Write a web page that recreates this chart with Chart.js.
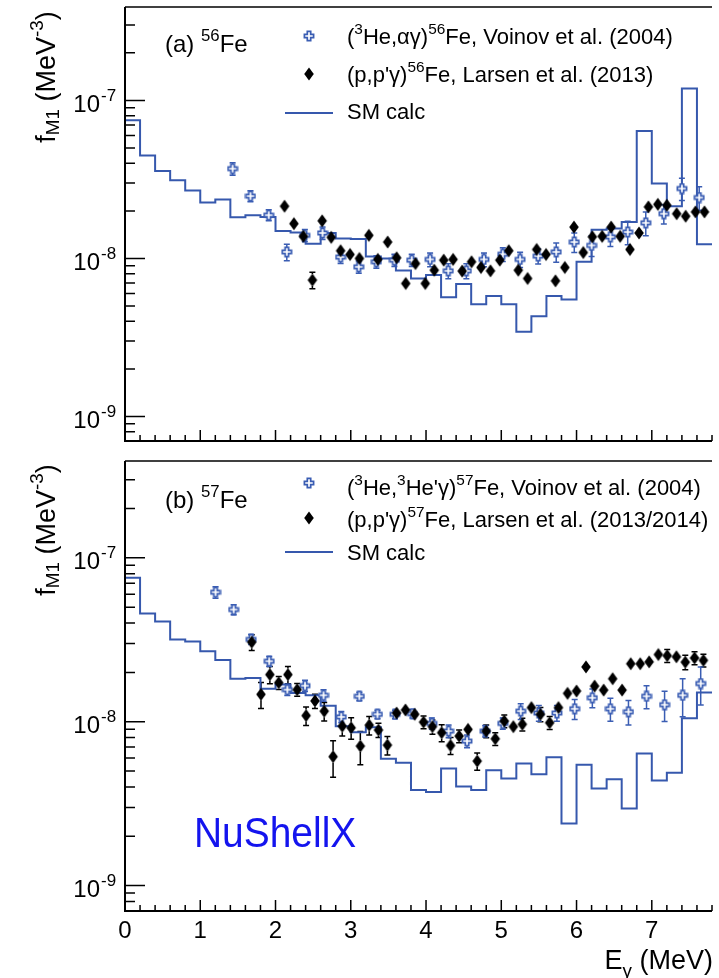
<!DOCTYPE html>
<html>
<head>
<meta charset="utf-8">
<script src="https://cdn.jsdelivr.net/npm/chart.js@4.4.1/dist/chart.umd.min.js"></script>
<style>
  html, body { margin: 0; padding: 0; background: #fff; }
  #wrap { position: relative; width: 719px; height: 978px; overflow: hidden; }
  canvas { position: absolute; left: 0; }
  #fe56 { top: 0; }
  #fe57 { top: 450px; }
</style>
</head>
<body>
<div id="wrap">
  <canvas id="fe56" width="719" height="450"></canvas>
  <canvas id="fe57" width="719" height="528"></canvas>
</div>
<script>
// shell-model histogram: bin edges in MeV (last entry closes the final bin)
const smBinEdges = [0, 0.2, 0.4, 0.6, 0.8, 1.0, 1.2, 1.4, 1.6, 1.8, 2.0, 2.2, 2.4, 2.6, 2.8, 3.0, 3.2, 3.4, 3.6, 3.8,
  4.0, 4.2, 4.4, 4.6, 4.8, 5.0, 5.2, 5.4, 5.6, 5.8, 6.0, 6.2, 6.4, 6.6, 6.8, 7.0, 7.2, 7.4, 7.6, 7.8];

const smFe56 = [7.48e-8, 4.48e-8, 3.57e-8, 3.13e-8, 2.69e-8, 2.26e-8, 2.36e-8, 1.82e-8, 1.88e-8, 1.83e-8,
  1.49e-8, 1.46e-8, 1.24e-8, 1.45e-8, 1.34e-8, 1.33e-8, 1.03e-8, 1.00e-8, 8.4e-9, 7.47e-9,
  7.85e-9, 5.68e-9, 6.89e-9, 5.14e-9, 5.78e-9, 5.14e-9, 3.44e-9, 4.31e-9, 5.78e-9, 5.51e-9,
  9.53e-9, 1.52e-8, 1.55e-8, 1.70e-8, 6.4e-8, 2.98e-8, 2.14e-8, 1.19e-7, 1.23e-8];

const smFe57 = [7.55e-8, 4.57e-8, 4.09e-8, 3.18e-8, 3.09e-8, 2.69e-8, 2.38e-8, 1.83e-8, 1.85e-8, 1.59e-8,
  1.69e-8, 1.50e-8, 1.45e-8, 1.25e-8, 9.4e-9, 8.64e-9, 9.27e-9, 5.94e-9, 5.62e-9, 3.83e-9,
  3.72e-9, 5.19e-9, 4.02e-9, 3.83e-9, 5.05e-9, 4.51e-9, 5.57e-9, 4.78e-9, 6.08e-9, 2.39e-9,
  5.47e-9, 3.92e-9, 4.45e-9, 2.96e-9, 6.41e-9, 4.38e-9, 4.89e-9, 1.05e-8, 1.51e-8];

// (3He,alpha gamma) 56Fe, Voinov et al.
const voinovFe56E = [1.43, 1.667, 1.91, 2.15, 2.39, 2.625, 2.865, 3.106, 3.34, 3.58, 3.81, 4.054, 4.296, 4.536,
  4.77, 5.02, 5.25, 5.49, 5.73, 5.97, 6.20, 6.45, 6.68, 6.92, 7.16, 7.40, 7.63];
const voinovFe56F = [3.70e-8, 2.48e-8, 1.88e-8, 1.10e-8, 1.40e-8, 1.45e-8, 1.02e-8, 8.85e-9, 9.53e-9, 9.76e-9,
  9.76e-9, 9.86e-9, 8.35e-9, 8.35e-9, 9.86e-9, 1.064e-8, 9.86e-9, 1.035e-8, 1.10e-8, 1.27e-8,
  1.21e-8, 1.37e-8, 1.47e-8, 1.68e-8, 1.92e-8, 2.77e-8, 2.43e-8];
const voinovFe56Err = [0.09, 0.08, 0.08, 0.12, 0.09, 0.09, 0.09, 0.09, 0.09, 0.09, 0.09, 0.10, 0.11, 0.11,
  0.10, 0.10, 0.11, 0.11, 0.14, 0.14, 0.15, 0.13, 0.17, 0.17, 0.14, 0.16, 0.17];

// (p,p'gamma) 56Fe, Larsen et al.
const larsenFe56E = [2.12, 2.244, 2.37, 2.49, 2.62, 2.74, 2.865, 2.99, 3.115, 3.24, 3.36, 3.49, 3.61, 3.73, 3.86,
  3.99, 4.11, 4.235, 4.36, 4.48, 4.605, 4.73, 4.856, 4.98, 5.10, 5.226, 5.35, 5.47, 5.595, 5.72,
  5.845, 5.966, 6.09, 6.21, 6.34, 6.46, 6.58, 6.71, 6.83, 6.955, 7.08, 7.20, 7.33, 7.45, 7.58, 7.70];
const larsenFe56F = [2.14e-8, 1.66e-8, 1.38e-8, 7.3e-9, 1.73e-8, 1.36e-8, 1.12e-8, 1.06e-8, 1.0e-8, 1.40e-8,
  9.86e-9, 1.27e-8, 1.01e-8, 6.95e-9, 9.29e-9, 6.95e-9, 8.43e-9, 9.76e-9, 9.86e-9, 8.32e-9,
  9.53e-9, 8.77e-9, 8.35e-9, 9.76e-9, 1.12e-8, 8.43e-9, 7.47e-9, 1.14e-8, 1.06e-8, 7.22e-9,
  8.77e-9, 1.58e-8, 1.09e-8, 1.37e-8, 1.38e-8, 1.58e-8, 1.38e-8, 1.14e-8, 1.45e-8, 2.12e-8,
  2.20e-8, 2.17e-8, 1.92e-8, 1.85e-8, 1.97e-8, 1.97e-8];
const larsenFe56Err = [0.05, 0.05, 0.05, 0.12, 0.05, 0.05, 0.05, 0.05, 0.05, 0.05, 0.05, 0.05, 0.05, 0.05, 0.05,
  0.05, 0.05, 0.05, 0.05, 0.05, 0.05, 0.05, 0.05, 0.05, 0.05, 0.05, 0.05, 0.05, 0.05, 0.05,
  0.05, 0.05, 0.05, 0.05, 0.05, 0.05, 0.05, 0.05, 0.05, 0.05, 0.05, 0.05, 0.05, 0.05, 0.05, 0.05];

// (3He,3He'gamma) 57Fe, Voinov et al.
const voinovFe57E = [1.203, 1.444, 1.676, 1.916, 2.157, 2.392, 2.638, 2.874, 3.114, 3.355, 3.587, 3.82, 4.077,
  4.30, 4.545, 4.786, 5.02, 5.258, 5.499, 5.739, 5.975, 6.21, 6.45, 6.69, 6.93, 7.17, 7.41, 7.65];
const voinovFe57F = [6.17e-8, 4.84e-8, 3.18e-8, 2.34e-8, 1.57e-8, 1.66e-8, 1.45e-8, 1.07e-8, 1.43e-8, 1.11e-8,
  1.11e-8, 1.12e-8, 9.77e-9, 8.77e-9, 7.62e-9, 8.77e-9, 9.77e-9, 1.16e-8, 1.13e-8, 1.13e-8,
  1.20e-8, 1.40e-8, 1.20e-8, 1.15e-8, 1.43e-8, 1.27e-8, 1.45e-8, 1.71e-8];
const voinovFe57Err = [0.08, 0.07, 0.07, 0.07, 0.08, 0.08, 0.08, 0.08, 0.06, 0.06, 0.06, 0.06, 0.08, 0.09,
  0.09, 0.08, 0.08, 0.11, 0.11, 0.11, 0.14, 0.13, 0.16, 0.17, 0.16, 0.21, 0.26, 0.26];

// (p,p'gamma) 57Fe, Larsen et al.
const larsenFe57E = [1.684, 1.807, 1.925, 2.043, 2.165, 2.288, 2.406, 2.524, 2.647, 2.765, 2.887, 3.005, 3.127,
  3.245, 3.368, 3.487, 3.609, 3.727, 3.85, 3.967, 4.085, 4.208, 4.326, 4.44, 4.558, 4.68, 4.80, 4.92,
  5.04, 5.16, 5.28, 5.40, 5.52, 5.643, 5.76, 5.88, 6.00, 6.125, 6.24, 6.36, 6.48, 6.605, 6.72, 6.846,
  6.965, 7.087, 7.205, 7.327, 7.445, 7.568, 7.686];
const larsenFe57F = [3.06e-8, 1.47e-8, 1.94e-8, 1.73e-8, 1.94e-8, 1.57e-8, 1.09e-8, 1.34e-8, 1.16e-8, 6.12e-9,
  9.4e-9, 9.19e-9, 7.1e-9, 9.53e-9, 8.9e-9, 7.2e-9, 1.13e-8, 1.18e-8, 1.11e-8, 9.95e-9,
  9.33e-9, 8.57e-9, 7.16e-9, 8.17e-9, 8.98e-9, 5.75e-9, 8.77e-9, 7.87e-9, 1.01e-8, 9.33e-9,
  9.65e-9, 1.22e-8, 1.11e-8, 9.86e-9, 1.22e-8, 1.49e-8, 1.54e-8, 2.16e-8, 1.65e-8, 1.56e-8,
  1.83e-8, 1.56e-8, 2.26e-8, 2.26e-8, 2.32e-8, 2.57e-8, 2.53e-8, 2.49e-8, 2.31e-8, 2.45e-8, 2.37e-8];
const larsenFe57Err = [0.11, 0.18, 0.12, 0.09, 0.12, 0.09, 0.13, 0.10, 0.13, 0.25, 0.13, 0.15, 0.23,
  0.13, 0.10, 0.13, 0.07, 0.06, 0.07, 0.09, 0.10, 0.12, 0.12, 0.09, 0.07, 0.12, 0.09, 0.09,
  0.09, 0.07, 0.09, 0.06, 0.10, 0.09, 0.07, 0.06, 0.07, 0.05, 0.07, 0.06, 0.06, 0.07, 0.05, 0.05,
  0.05, 0.06, 0.09, 0.06, 0.10, 0.09, 0.09];

// axis tick labels
const xTickLabels = ['0', '1', '2', '3', '4', '5', '6', '7'];
const yTickExponents = [-9, -8, -7];

const SM_BLUE = '#3658ad';
const DATA_BLUE = '#3a5db3';
const FONT = '"Liberation Sans", Arial, Helvetica, sans-serif';

function toPoints(xs, ys) {
  return xs.map((x, i) => ({ x: x, y: ys[i] }));
}

// histogram points sit on the lower bin edges; the last edge repeats the last content
function histPoints(edges, vals) {
  return edges.map((x, i) => ({ x: x, y: vals[Math.min(i, vals.length - 1)] }));
}

function makeCross() {
  const c = document.createElement('canvas');
  c.width = 12; c.height = 12;
  const g = c.getContext('2d');
  const a = 4.6, b = 1.7;
  g.translate(6, 6);
  g.beginPath();
  [[-b, -a], [b, -a], [b, -b], [a, -b], [a, b], [b, b], [b, a], [-b, a], [-b, b], [-a, b], [-a, -b], [-b, -b]]
    .forEach(([x, y], i) => (i ? g.lineTo(x, y) : g.moveTo(x, y)));
  g.closePath();
  g.fillStyle = '#fff';
  g.fill();
  g.strokeStyle = DATA_BLUE;
  g.lineWidth = 1.7;
  g.stroke();
  return c;
}

function makeDiamond() {
  const c = document.createElement('canvas');
  c.width = 12; c.height = 16;
  const g = c.getContext('2d');
  g.beginPath();
  g.moveTo(6, 1.5); g.lineTo(10.8, 8); g.lineTo(6, 14.5); g.lineTo(1.2, 8);
  g.closePath();
  g.fillStyle = '#000';
  g.fill();
  return c;
}

const crossImg = makeCross();
const diamondImg = makeDiamond();

// text with ROOT-like super/subscripts: parts are [text, kind]
function drawRich(ctx, parts, x, y, size, measureOnly) {
  let cx = x;
  parts.forEach(([txt, kind]) => {
    let fs = size, dy = 0;
    if (kind === 'sup') { fs = size * 0.7; dy = -size * 0.45; }
    if (kind === 'sub') { fs = size * 0.7; dy = size * 0.16; }
    if (kind === 'subg') { fs = size * 0.7; dy = size * 0.3; }
    ctx.font = fs + 'px ' + FONT;
    if (!measureOnly) ctx.fillText(txt, cx, y + dy);
    cx += ctx.measureText(txt).width;
  });
  return cx - x;
}

// vertical error bars; the part hidden by the marker is skipped, as ROOT does
const errorBars = {
  id: 'errorBars',
  beforeDatasetsDraw(chart) {
    const { ctx, chartArea: a, scales: { x, y } } = chart;
    ctx.save();
    ctx.beginPath();
    ctx.rect(a.left, a.top, a.right - a.left, a.bottom - a.top);
    ctx.clip();
    chart.data.datasets.forEach(ds => {
      if (!ds.relErr) return;
      const m = ds.markerHalf;
      ctx.strokeStyle = ds.errColor;
      ctx.lineWidth = 1.5;
      ds.data.forEach((p, i) => {
        const px = x.getPixelForValue(p.x);
        const py = y.getPixelForValue(p.y);
        const lo = y.getPixelForValue(p.y * (1 - ds.relErr[i]));
        const hi = y.getPixelForValue(p.y * (1 + ds.relErr[i]));
        ctx.beginPath();
        if (lo > py + m) {
          ctx.moveTo(px, py + m); ctx.lineTo(px, lo);
          ctx.moveTo(px - 3, lo); ctx.lineTo(px + 3, lo);
        }
        if (hi < py - m) {
          ctx.moveTo(px, py - m); ctx.lineTo(px, hi);
          ctx.moveTo(px - 3, hi); ctx.lineTo(px + 3, hi);
        }
        ctx.stroke();
      });
    });
    ctx.restore();
  }
};

function makeDecor(p) {
  return {
    id: 'decor',
    afterDraw(chart) {
      const { ctx, chartArea: a, scales: { x, y } } = chart;
      ctx.save();
      ctx.strokeStyle = '#000';
      ctx.fillStyle = '#000';
      ctx.textBaseline = 'alphabetic';

      // frame (right side runs off the page)
      ctx.lineWidth = 1.5;
      ctx.beginPath();
      ctx.moveTo(a.left, a.top); ctx.lineTo(a.right, a.top);
      ctx.stroke();
      ctx.lineWidth = 2;
      ctx.beginPath();
      ctx.moveTo(a.left, a.top); ctx.lineTo(a.left, a.bottom);
      ctx.moveTo(a.left - 1, a.bottom); ctx.lineTo(a.right, a.bottom);
      ctx.stroke();

      // inward ticks
      ctx.lineWidth = 1.5;
      ctx.beginPath();
      for (let e = -10; e <= -7; e++) {
        for (let m = 1; m <= 9; m++) {
          const v = m * Math.pow(10, e);
          if (v < y.min || v > y.max) continue;
          const py = y.getPixelForValue(v);
          ctx.moveTo(a.left, py);
          ctx.lineTo(a.left + (m === 1 ? 20 : 10), py);
        }
      }
      for (let i = 1; i * 0.2 <= x.max + 1e-9; i++) {
        const px = x.getPixelForValue(i * 0.2);
        ctx.moveTo(px, a.bottom);
        ctx.lineTo(px, a.bottom - (i % 5 === 0 ? 11 : 6));
      }
      ctx.stroke();

      // y tick labels 10^n
      yTickExponents.forEach(e => {
        const py = y.getPixelForValue(Math.pow(10, e));
        ctx.textAlign = 'right';
        ctx.font = '24px ' + FONT;
        ctx.fillText('10', 100, py + 11.5);
        ctx.textAlign = 'left';
        ctx.font = '17px ' + FONT;
        ctx.fillText(String(e), 101, py + 0.5);
      });
      ctx.textAlign = 'left';

      // y title, rotated
      const yTitle = [['f', 'n'], ['M1', 'sub'], [' (MeV', 'n'], ['-3', 'sup'], [')', 'n']];
      const yw = drawRich(ctx, yTitle, 0, 0, 27, true);
      ctx.save();
      ctx.translate(55, p.yTitleCenter);
      ctx.rotate(-Math.PI / 2);
      drawRich(ctx, yTitle, -yw / 2, 0, 27);
      ctx.restore();

      // x tick labels and title on the lower panel only
      if (p.showXLabels) {
        ctx.textAlign = 'center';
        ctx.font = '24px ' + FONT;
        xTickLabels.forEach(t => {
          ctx.fillText(t, x.getPixelForValue(Number(t)), 488);
        });
        ctx.textAlign = 'left';
        const xTitle = [['E', 'n'], ['\u03b3', 'subg'], [' (MeV)', 'n']];
        const xw = drawRich(ctx, xTitle, 0, 0, 27, true);
        drawRich(ctx, xTitle, 713 - xw, 519, 27);
      }

      // panel label
      drawRich(ctx, p.label, 165, p.labelY, 24);

      // legend
      ctx.drawImage(crossImg, 309 - 6, p.legendY[0] - 6);
      ctx.drawImage(diamondImg, 309 - 6, p.legendY[1] - 8);
      ctx.strokeStyle = SM_BLUE;
      ctx.lineWidth = 2;
      ctx.beginPath();
      ctx.moveTo(285, p.legendY[2]); ctx.lineTo(333, p.legendY[2]);
      ctx.stroke();
      ctx.fillStyle = '#000';
      p.legendText.forEach((parts, i) => drawRich(ctx, parts, 347, p.legendBase[i], 22));

      if (p.note) {
        ctx.save();
        ctx.translate(p.note.x, p.note.y);
        ctx.scale(0.905, 1);
        ctx.fillStyle = '#1414ee';
        ctx.font = '43px ' + FONT;
        ctx.fillText(p.note.text, 0, 0);
        ctx.restore();
      }
      ctx.restore();
    }
  };
}

function makePanel(id, p) {
  return new Chart(id, {
    type: 'line',
    data: {
      datasets: [
        {
          label: p.larsenLabel,
          data: toPoints(p.larsenE, p.larsenF),
          relErr: p.larsenErr,
          errColor: '#000',
          markerHalf: 6,
          showLine: false,
          pointStyle: diamondImg,
          pointRadius: 6,
        },
        {
          label: p.voinovLabel,
          data: toPoints(p.voinovE, p.voinovF),
          relErr: p.voinovErr,
          errColor: DATA_BLUE,
          markerHalf: 4,
          showLine: false,
          pointStyle: crossImg,
          pointRadius: 6,
        },
        {
          label: 'SM calc',
          data: histPoints(smBinEdges, p.sm),
          stepped: true,
          borderColor: SM_BLUE,
          borderWidth: 2,
          pointRadius: 0,
          fill: false,
        },
      ],
    },
    options: {
      responsive: false,
      animation: false,
      events: [],
      layout: { padding: { top: p.padTop, left: 0, right: 0, bottom: 0 } },
      plugins: { legend: { display: false }, tooltip: { enabled: false } },
      scales: {
        x: {
          type: 'linear', min: 0, max: 7.8,
          grid: { display: false }, border: { display: false }, ticks: { display: false },
          afterFit: s => { s.height = p.xAxisH; },
        },
        y: {
          type: 'logarithmic', min: 7.05e-10, max: 3.9e-7,
          grid: { display: false }, border: { display: false }, ticks: { display: false },
          afterFit: s => { s.width = 125; },
        },
      },
    },
    plugins: [errorBars, makeDecor(p)],
  });
}

document.addEventListener('DOMContentLoaded', () => {
  makePanel('fe56', {
    padTop: 7, xAxisH: 9, showXLabels: false, yTitleCenter: 77,
    sm: smFe56,
    voinovE: voinovFe56E, voinovF: voinovFe56F, voinovErr: voinovFe56Err,
    larsenE: larsenFe56E, larsenF: larsenFe56F, larsenErr: larsenFe56Err,
    voinovLabel: '(3He,\u03b1\u03b3)56Fe, Voinov et al. (2004)',
    larsenLabel: "(p,p'\u03b3)56Fe, Larsen et al. (2013)",
    label: [['(a) ', 'n'], ['56', 'sup'], ['Fe', 'n']], labelY: 52,
    legendY: [36, 74, 113], legendBase: [44, 82, 119],
    legendText: [
      [['(', 'n'], ['3', 'sup'], ['He,\u03b1\u03b3)', 'n'], ['56', 'sup'], ['Fe, Voinov et al. (2004)', 'n']],
      [["(p,p'\u03b3)", 'n'], ['56', 'sup'], ['Fe, Larsen et al. (2013)', 'n']],
      [['SM calc', 'n']],
    ],
  });

  makePanel('fe57', {
    padTop: 11, xAxisH: 67, showXLabels: true, yTitleCenter: 80,
    sm: smFe57,
    voinovE: voinovFe57E, voinovF: voinovFe57F, voinovErr: voinovFe57Err,
    larsenE: larsenFe57E, larsenF: larsenFe57F, larsenErr: larsenFe57Err,
    voinovLabel: "(3He,3He'\u03b3)57Fe, Voinov et al. (2004)",
    larsenLabel: "(p,p'\u03b3)57Fe, Larsen et al. (2013/2014)",
    label: [['(b) ', 'n'], ['57', 'sup'], ['Fe', 'n']], labelY: 58,
    legendY: [33, 68, 102], legendBase: [45, 77, 110],
    legendText: [
      [['(', 'n'], ['3', 'sup'], ['He,', 'n'], ['3', 'sup'], ["He'\u03b3)", 'n'], ['57', 'sup'], ['Fe, Voinov et al. (2004)', 'n']],
      [["(p,p'\u03b3)", 'n'], ['57', 'sup'], ['Fe, Larsen et al. (2013/2014)', 'n']],
      [['SM calc', 'n']],
    ],
    note: { text: 'NuShellX', x: 194, y: 397 },
  });
});
</script>
</body>
</html>
